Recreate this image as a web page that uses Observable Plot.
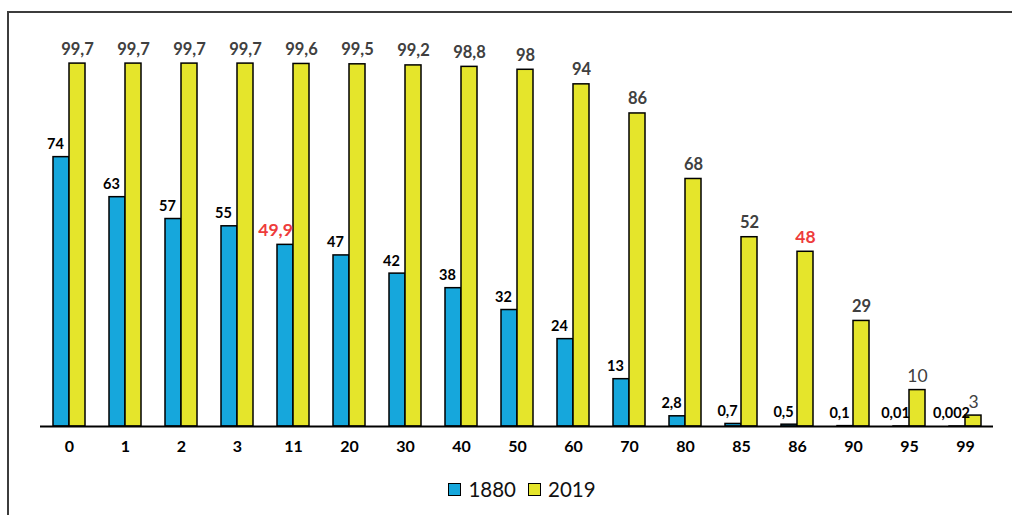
<!DOCTYPE html>
<html>
<head>
<meta charset="utf-8">
<script src="https://cdn.jsdelivr.net/npm/d3@7"></script>
<script src="https://cdn.jsdelivr.net/npm/@observablehq/plot@0.6"></script>
<style>
  html, body { margin: 0; padding: 0; background: #fff; }
  body { width: 1012px; height: 515px; overflow: hidden; position: relative; font-family: Lato, "Noto Sans", sans-serif; }
  #frame { position: absolute; left: 7px; top: 11px; width: 1100px; height: 600px;
           border-left: 2px solid #3c3c3c; border-top: 2px solid #3c3c3c; pointer-events: none; }
  #chart { position: absolute; left: 0; top: 0; }
  #legend { position: absolute; left: 16px; top: 477px; width: 1012px; display: flex; justify-content: center;
            align-items: center; font-size: 20.5px; color: #111; }
  .item { display: flex; align-items: center; margin: 0 6px; }
  .sw { width: 11px; height: 11px; border: 1.5px solid #000; margin-right: 7px; }
</style>
</head>
<body>
<div id="frame"></div>
<div id="chart"></div>
<div id="legend"></div>
<script>
// Age groups on the x axis
const ages = ["0", "1", "2", "3", "11", "20", "30", "40", "50", "60", "70", "80", "85", "86", "90", "95", "99"];
// Share (%) for each age, by year
const v1880 = [74, 63, 57, 55, 49.9, 47, 42, 38, 32, 24, 13, 2.8, 0.7, 0.5, 0.1, 0.01, 0.002];
const v2019 = [99.7, 99.7, 99.7, 99.7, 99.6, 99.5, 99.2, 98.8, 98, 94, 86, 68, 52, 48, 29, 10, 3];
const seriesNames = ["1880", "2019"];
const seriesColors = ["#16a7dc", "#e5e52b"];
// Values shown in red
const highlight1880 = ["11"];
const highlight2019 = ["86"];
// 2019 values written in a plain face
const plain2019 = ["95", "99"];

const rows1880 = ages.map((age, i) => ({age, value: v1880[i]}));
const rows2019 = ages.map((age, i) => ({age, value: v2019[i]}));
const fmt = d => String(d.value).replace(".", ",");

const half = 16;
const chart = Plot.plot({
  width: 1012,
  height: 466,
  marginLeft: 40,
  marginRight: 19,
  marginTop: 62,
  marginBottom: 40,
  style: {fontFamily: "Lato, 'Noto Sans', sans-serif", color: "#000", background: "transparent"},
  x: {domain: ages, paddingInner: 0.43, paddingOuter: 0.214, label: null},
  y: {domain: [0, 100], axis: null},
  marks: [
    Plot.axisX({tickSize: 0, tickPadding: 14, fontSize: 16, fontWeight: "bold", label: null}),
    Plot.barY(rows1880, {x: "age", y: "value", fill: seriesColors[0], stroke: "#000", strokeWidth: 1.5, insetRight: half}),
    Plot.barY(rows2019, {x: "age", y: "value", fill: seriesColors[1], stroke: "#000", strokeWidth: 1.5, insetLeft: half}),
    Plot.ruleY([0], {stroke: "#000", strokeWidth: 1.8}),
    Plot.text(rows1880.filter(d => !highlight1880.includes(d.age)), {
      x: "age", y: "value", text: fmt, dx: -14, dy: -8, lineAnchor: "bottom",
      fill: "#000", fontSize: 14.5, fontWeight: "bold"}),
    Plot.text(rows1880.filter(d => highlight1880.includes(d.age)), {
      x: "age", y: "value", text: fmt, dx: -18, dy: -9, lineAnchor: "bottom",
      fill: "#ee3b3b", fontSize: 17.5, fontWeight: "bold"}),
    Plot.text(rows2019.filter(d => !highlight2019.includes(d.age) && !plain2019.includes(d.age)), {
      x: "age", y: "value", text: fmt, dx: 8, dy: -9, lineAnchor: "bottom",
      fill: "#404040", fontSize: 16.5, fontWeight: "bold"}),
    Plot.text(rows2019.filter(d => plain2019.includes(d.age)), {
      x: "age", y: "value", text: fmt, dx: 8, dy: -8, lineAnchor: "bottom",
      fill: "#404040", fontSize: 17.5}),
    Plot.text(rows2019.filter(d => highlight2019.includes(d.age)), {
      x: "age", y: "value", text: fmt, dx: 8, dy: -9, lineAnchor: "bottom",
      fill: "#ee3b3b", fontSize: 17.5, fontWeight: "bold"})
  ]
});
document.getElementById("chart").appendChild(chart);

const legend = document.getElementById("legend");
seriesNames.forEach((name, i) => {
  const item = document.createElement("div");
  item.className = "item";
  const sw = document.createElement("span");
  sw.className = "sw";
  sw.style.background = seriesColors[i];
  const label = document.createElement("span");
  label.textContent = name;
  item.appendChild(sw);
  item.appendChild(label);
  legend.appendChild(item);
});
</script>
</body>
</html>
